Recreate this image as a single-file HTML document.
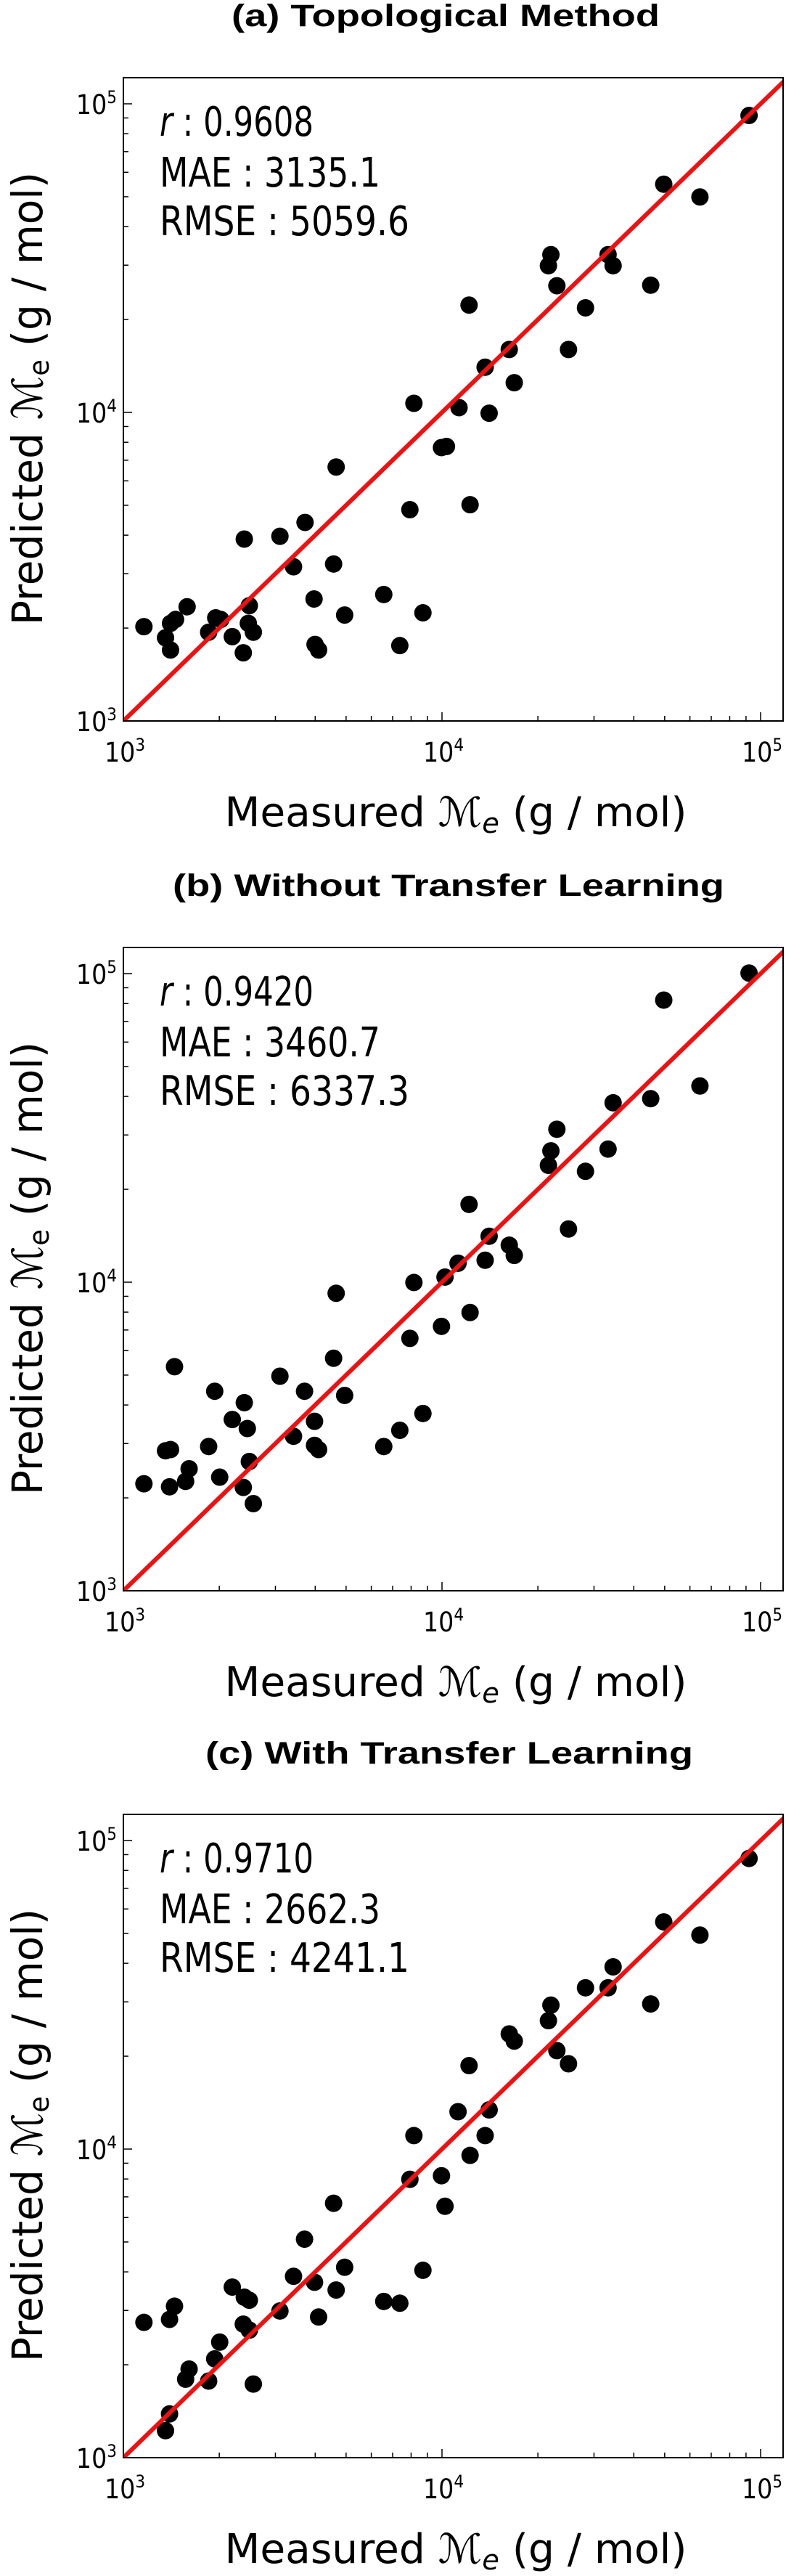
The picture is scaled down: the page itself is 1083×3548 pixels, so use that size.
<!DOCTYPE html>
<html><head><meta charset="utf-8"><style>
html,body{margin:0;padding:0;background:#fff;}
svg{display:block;font-family:"DejaVu Sans Condensed","DejaVu Sans","Liberation Sans",sans-serif;}
</style></head><body>
<svg id="fig" width="1083" height="3548" viewBox="0 0 1083 3548" xmlns="http://www.w3.org/2000/svg"></svg>
<script>
// Panel (a) Topological Method
const measuredA = [1160,1356,1406,1406,1458,1585,1852,1949,2021,2197,2396,2379,2485,2467,2558,3100,3420,3717,3967,3996,4099,4569,4654,4949,6565,7373,7930,8163,8713,9963,10330,11310,12160,12250,13660,14060,16260,16860,21580,21970,22940,24950,28210,33210,34440,45200,49660,64500,91990];
const predictedA = [2021,1860,1698,2072,2133,2345,1939,2159,2133,1876,3885,1663,2364,2072,1939,3967,3160,4399,2485,1770,1698,3226,6652,2204,2569,1755,4838,10700,2241,7691,7755,10360,22270,5021,14010,9938,15990,12480,29880,32450,25730,15990,21820,32450,29880,25840,54890,49900,91670];
// Panel (b) Without Transfer Learning
const measuredB = [1160,1356,1406,1396,1447,1568,1608,1852,1935,2006,2197,2379,2396,2449,2485,2558,3100,3420,3703,3981,3981,4099,4569,4654,4949,6565,7373,7930,8163,8713,9963,10220,11230,12160,12250,13660,14060,16260,16860,21580,21970,22940,24950,28210,33210,34440,45200,49660,64500,91990];
const predictedB = [2222,2842,2868,2172,5323,2262,2485,2934,4432,2334,3589,2163,4070,3356,2623,1916,4958,3167,4432,3541,2960,2868,5670,9205,4296,2934,3311,6575,9977,3754,7193,10390,11520,17870,7975,11780,14090,13180,12210,23920,26640,31310,14870,22870,27000,38140,39340,82070,43240,100400];
// Panel (c) With Transfer Learning
const measuredC = [1160,1356,1396,1396,1447,1568,1608,1852,1935,2006,2197,2379,2396,2485,2485,2558,3100,3420,3703,3981,4099,4569,4654,4949,6565,7373,7930,8163,8713,9963,10220,11230,12160,12250,13660,14060,16260,16860,21580,21970,22940,24950,28210,33210,34440,45200,49660,64500,91990];
const predictedC = [2744,1223,1386,2806,3096,1796,1937,1771,2090,2368,3571,2708,3311,3237,2590,1732,2988,3870,5106,3702,2856,6674,3493,4140,3208,3166,7980,11060,4048,8196,6527,13220,18640,9541,11060,13400,23620,22390,26070,29280,20850,18900,33320,33320,38960,29540,54480,49380,87470];
const panelTitles = ["(a) Topological Method","(b) Without Transfer Learning","(c) With Transfer Learning"];
const statR = ["0.9608","0.9420","0.9710"];
const statMAE = ["3135.1","3460.7","2662.3"];
const statRMSE = ["5059.6","6337.3","4241.1"];
const majorTicks = [1000,10000,100000];
const majorTickExp = ["3","4","5"];

const NS = "http://www.w3.org/2000/svg";
const svg = document.getElementById('fig');
function mk(tag, attrs, parent){
  const e = document.createElementNS(NS, tag);
  for (const k in attrs) e.setAttribute(k, attrs[k]);
  (parent||svg).appendChild(e);
  return e;
}
const L = 170, R = 1079, H = 886, DX = 439, DY = 425;
const tops = [107, 1305, 2499];
const titleY = [21, 1219, 2414];
const titleW = [590, 760, 672];
const titleCx = [614, 618, 619];
const dataX = [measuredA, measuredB, measuredC];
const dataY = [predictedA, predictedB, predictedC];
const slugs = ["topological","without-transfer","with-transfer"];

for (let p = 0; p < 3; p++) {
  const top = tops[p], bot = top + H;
  const xs = v => L + (Math.log10(v) - 3) * DX;
  const ys = v => bot - (Math.log10(v) - 3) * DY;
  const g = mk('g', {});
  
  

  const t = mk('text', {x: titleCx[p], y: titleY[p] + 15, 'text-anchor': 'middle', 'font-family': '"Liberation Sans",Arial,sans-serif', 'font-weight': 'bold', 'font-size': 43, textLength: titleW[p], lengthAdjust: 'spacingAndGlyphs'}, g);
  
  
  t.textContent = panelTitles[p];

  const cid = 'clip' + p;
  const cp = mk('clipPath', {id: cid}, g);
  mk('rect', {x: L, y: top, width: R - L, height: H}, cp);

  const tg = mk('g', {stroke: '#000', 'stroke-width': 1.5}, g);
  
  
  for (let d = 1000; d <= 100000; d *= 10) {
    for (let m = 1; m <= 9; m++) {
      const v = d * m;
      if (Math.log10(v) > 5.07) continue;
      const len = m === 1 ? 12 : 7;
      const px = xs(v), py = ys(v);
      mk('line', {x1: px, y1: bot, x2: px, y2: bot - len}, tg);
      if (py >= top) mk('line', {x1: L, y1: py, x2: L + len, y2: py}, tg);
    }
  }

  const pg = mk('g', {'clip-path': 'url(#' + cid + ')'}, g);
  
  
  const X = dataX[p], Y = dataY[p];
  for (let i = 0; i < X.length; i++) {
    const c = mk('circle', {cx: xs(X[i]), cy: ys(Y[i]), r: 12, fill: '#000'}, pg);
    
    
  }
  const ln = mk('line', {x1: xs(1000), y1: ys(1000), x2: xs(130000), y2: ys(130000), stroke: '#ee1111', 'stroke-width': 6, 'clip-path': 'url(#' + cid + ')'}, g);
  
  

  const fr = mk('rect', {x: L, y: top, width: R - L, height: H, fill: 'none', stroke: '#000', 'stroke-width': 2}, g);
  
  

  for (let k = 0; k < majorTicks.length; k++) {
    const v = majorTicks[k];
    const tx = mk('text', {x: xs(v) + 2, y: bot + 56, 'text-anchor': 'middle', 'font-size': 37}, g);
    
    
    tx.innerHTML = '10<tspan dy="-15" font-size="24">' + majorTickExp[k] + '</tspan>';
    const ty = mk('text', {x: 161, y: ys(v) + 14, 'text-anchor': 'end', 'font-size': 37}, g);
    
    
    ty.innerHTML = '10<tspan dy="-15" font-size="24">' + majorTickExp[k] + '</tspan>';
  }

  const xl = mk('text', {x: 628, y: top + 1031, 'text-anchor': 'middle', 'font-size': 56, textLength: 637, lengthAdjust: 'spacingAndGlyphs'}, g);
  
  
  xl.innerHTML = 'Measured <tspan font-style="italic">ℳ</tspan><tspan font-style="italic" font-size="38" dy="9">e</tspan><tspan dy="-9"> (g / mol)</tspan>';

  const cy = top + 442;
  const yl = mk('text', {x: 0, y: 0, 'text-anchor': 'middle', 'font-size': 58, textLength: 624, lengthAdjust: 'spacingAndGlyphs', transform: 'translate(58,' + cy + ') rotate(-90)'}, g);
  
  
  yl.innerHTML = 'Predicted <tspan>ℳ</tspan><tspan font-size="38" dy="9">e</tspan><tspan dy="-9"> (g / mol)</tspan>';

  const ag = mk('g', {'font-size': 56}, g);
  
  
  const a1 = mk('text', {x: 220, y: top + 80, textLength: 212, lengthAdjust: 'spacingAndGlyphs'}, ag);
  a1.innerHTML = '<tspan font-style="italic">r</tspan> : ' + statR[p];
  const a2 = mk('text', {x: 220, y: top + 150, textLength: 304, lengthAdjust: 'spacingAndGlyphs'}, ag);
  a2.textContent = 'MAE : ' + statMAE[p];
  const a3 = mk('text', {x: 220, y: top + 217, textLength: 344, lengthAdjust: 'spacingAndGlyphs'}, ag);
  a3.textContent = 'RMSE : ' + statRMSE[p];
}
</script>
</body></html>
